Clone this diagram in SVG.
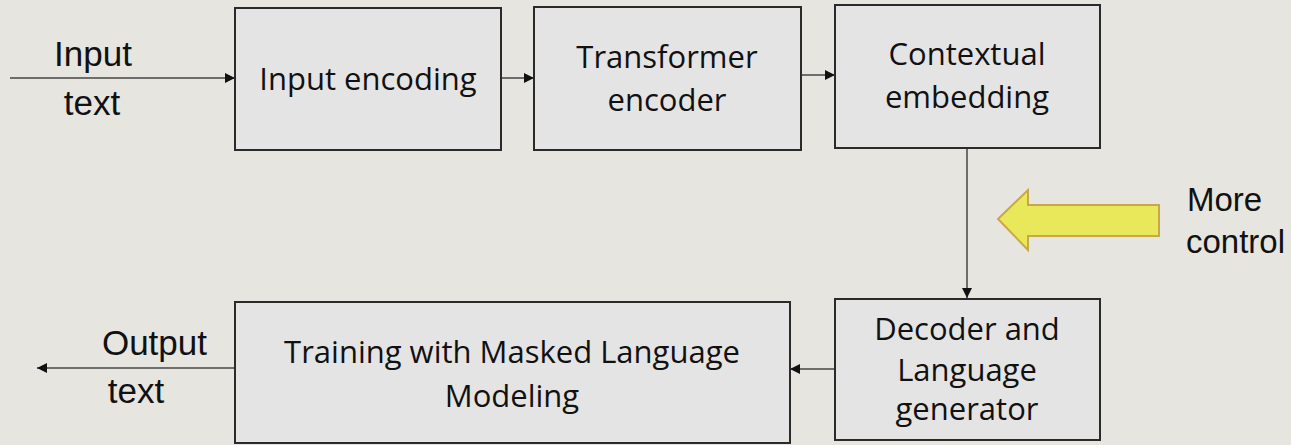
<svg xmlns="http://www.w3.org/2000/svg" width="1291" height="445" viewBox="0 0 1291 445">
<defs>
<style>
.bg{fill:#e6e5e0}
.box{fill:#e5e4e4;stroke:#2a2a2a;stroke-width:2}
.t{font-family:"Open Sans","Liberation Sans",sans-serif;font-size:31px;fill:#111;text-anchor:middle}
.a{font-family:"Liberation Sans",Arial,sans-serif;font-size:35px;fill:#111}
.c{stroke:#444;stroke-width:1.5;fill:none;marker-end:url(#ah)}
</style>
<marker id="ah" viewBox="0 0 10 10" refX="10" refY="5" markerWidth="11" markerHeight="10" markerUnits="userSpaceOnUse" orient="auto"><path d="M0,0 L10,5 L0,10 z" fill="#111"/></marker>
</defs>
<rect class="bg" x="0" y="0" width="1291" height="445"/>
<g id="connectors">
<line class="c" x1="10" y1="78" x2="235" y2="78"/>
<line class="c" x1="501" y1="78" x2="534" y2="78"/>
<line class="c" x1="801" y1="75" x2="835" y2="75"/>
<line class="c" x1="967" y1="148" x2="967" y2="298"/>
<line class="c" x1="835" y1="369" x2="790" y2="369"/>
<line class="c" x1="236" y1="368" x2="37" y2="368"/>
</g>
<g id="input-label"><text class="a" x="93" y="66" text-anchor="middle">Input</text><text class="a" x="92" y="115" text-anchor="middle">text</text></g>
<g id="input-encoding"><rect class="box" x="235" y="8" width="266" height="142"/><text class="t" x="368" y="90">Input encoding</text></g>
<g id="transformer-encoder"><rect class="box" x="534" y="7" width="267" height="143"/><text class="t" x="667" y="68">Transformer</text><text class="t" x="667" y="111">encoder</text></g>
<g id="contextual-embedding"><rect class="box" x="835" y="5" width="265" height="143"/><text class="t" x="967" y="65">Contextual</text><text class="t" x="967" y="108">embedding</text></g>
<g id="more-control"><path d="M998,219 L1028,190 L1028,205 L1159,205 L1159,236 L1028,236 L1028,250 Z" fill="#e8e85a" stroke="#c9a64a" stroke-width="2"/><text class="a" x="1187" y="211" style="font-size:33px">More</text><text class="a" x="1186" y="253" style="font-size:33px">control</text></g>
<g id="decoder"><rect class="box" x="835" y="299" width="265" height="141"/><text class="t" x="967" y="340">Decoder and</text><text class="t" x="967" y="381">Language</text><text class="t" x="967" y="420">generator</text></g>
<g id="training"><rect class="box" x="235" y="302" width="555" height="141"/><text class="t" x="512" y="363">Training with Masked Language</text><text class="t" x="512" y="407">Modeling</text></g>
<g id="output-label"><text class="a" x="207" y="355" text-anchor="end">Output</text><text class="a" x="136" y="403" text-anchor="middle">text</text></g>
</svg>
